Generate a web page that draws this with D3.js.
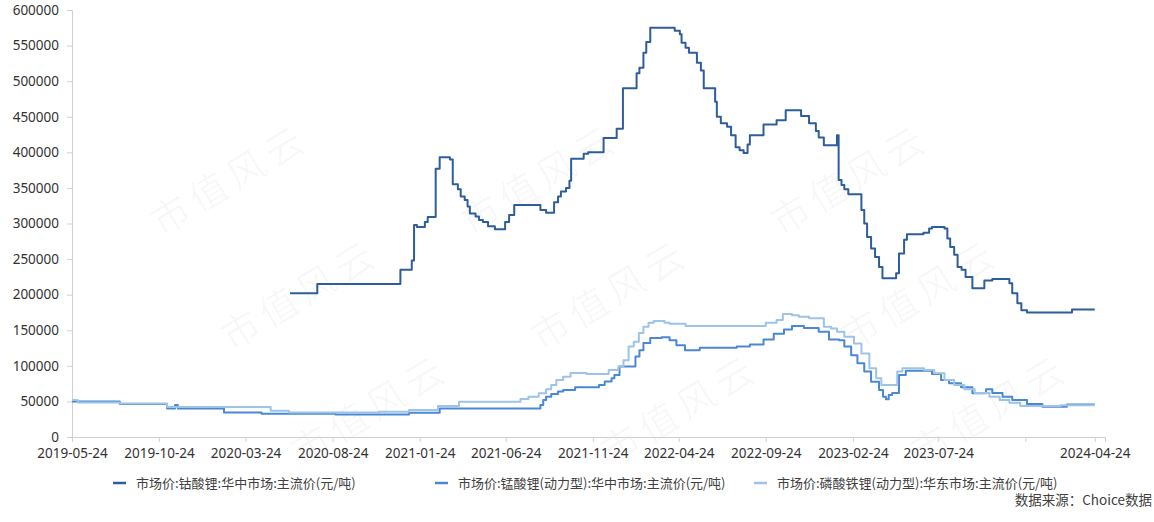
<!DOCTYPE html>
<html>
<head>
<meta charset="utf-8">
<script src="https://cdn.jsdelivr.net/npm/d3@7.9.0/dist/d3.min.js"></script>
<style>
  html, body { margin: 0; padding: 0; background: #fff; }
  svg { display: block; font-family: "Microsoft YaHei", "Noto Sans CJK SC", "Noto Sans", sans-serif; }
</style>
</head>
<body>
<svg id="chart" width="1154" height="522"></svg>
<script>
// tick labels
const yTicks = [0, 50000, 100000, 150000, 200000, 250000, 300000, 350000, 400000, 450000, 500000, 550000, 600000];
const xTickDates = ['2019-05-24', '2019-10-24', '2020-03-24', '2020-08-24', '2021-01-24', '2021-06-24',
  '2021-11-24', '2022-04-24', '2022-09-24', '2023-02-24', '2023-07-24', '2023-12-24', '2024-04-24'];
const xTickLabels = ['2019-05-24', '2019-10-24', '2020-03-24', '2020-08-24', '2021-01-24', '2021-06-24',
  '2021-11-24', '2022-04-24', '2022-09-24', '2023-02-24', '2023-07-24', '', '2024-04-24'];

const seriesNames = [
  '市场价:钴酸锂:华中市场:主流价(元/吨)',
  '市场价:锰酸锂(动力型):华中市场:主流价(元/吨)',
  '市场价:磷酸铁锂(动力型):华东市场:主流价(元/吨)'
];
const seriesColors = ['#2e5d9c', '#4a87d5', '#9dc3e6'];

// 钴酸锂
const licoData = [
  ['2020-06-10', 202000], ['2020-07-28', 215000], ['2020-12-21', 235000], ['2021-01-10', 248000],
  ['2021-01-14', 298000], ['2021-01-19', 295000], ['2021-02-02', 302000], ['2021-02-07', 309000],
  ['2021-02-21', 377000], ['2021-02-28', 393000], ['2021-03-18', 390000], ['2021-03-23', 355000],
  ['2021-04-01', 348000], ['2021-04-06', 338000], ['2021-04-13', 333000], ['2021-04-18', 324000],
  ['2021-04-22', 314000], ['2021-05-02', 310000], ['2021-05-08', 305000], ['2021-05-15', 302000],
  ['2021-05-24', 296000], ['2021-06-05', 292000], ['2021-06-23', 302000], ['2021-06-30', 312000],
  ['2021-07-09', 326000], ['2021-08-24', 319000], ['2021-09-03', 315000], ['2021-09-17', 330000],
  ['2021-09-24', 338000], ['2021-09-29', 345000], ['2021-10-08', 350000], ['2021-10-14', 360000],
  ['2021-10-17', 391000], ['2021-11-08', 398000], ['2021-11-16', 400000], ['2021-12-13', 420000],
  ['2022-01-05', 433000], ['2022-01-16', 490000], ['2022-02-09', 511000], ['2022-02-14', 519000],
  ['2022-02-21', 540000], ['2022-02-26', 555000], ['2022-03-05', 575000], ['2022-04-17', 571000],
  ['2022-04-26', 566000], ['2022-04-29', 554000], ['2022-05-06', 547000], ['2022-05-12', 540000],
  ['2022-05-26', 526000], ['2022-06-02', 515000], ['2022-06-07', 490000], ['2022-06-27', 471000],
  ['2022-06-30', 450000], ['2022-07-07', 441000], ['2022-07-18', 436000], ['2022-07-25', 424000],
  ['2022-08-02', 407000], ['2022-08-09', 403000], ['2022-08-16', 399000], ['2022-08-23', 411000],
  ['2022-08-27', 424000], ['2022-09-20', 439000], ['2022-10-13', 445000], ['2022-10-29', 459000],
  ['2022-11-25', 451000], ['2022-12-09', 441000], ['2022-12-21', 430000], ['2022-12-26', 421000],
  ['2023-01-04', 410000], ['2023-01-27', 424000], ['2023-01-30', 361000], ['2023-02-04', 354000],
  ['2023-02-09', 348000], ['2023-02-16', 341000], ['2023-03-11', 319000], ['2023-03-16', 300000],
  ['2023-03-21', 281000], ['2023-03-28', 265000], ['2023-04-04', 253000], ['2023-04-11', 239000],
  ['2023-04-17', 223000], ['2023-05-11', 230000], ['2023-05-16', 258000], ['2023-05-25', 277000],
  ['2023-05-30', 285000], ['2023-06-28', 287000], ['2023-07-08', 293000], ['2023-07-13', 295000],
  ['2023-08-04', 293000], ['2023-08-09', 279000], ['2023-08-14', 267000], ['2023-08-21', 256000],
  ['2023-08-27', 239000], ['2023-09-03', 235000], ['2023-09-10', 225000], ['2023-09-22', 209000],
  ['2023-10-13', 220000], ['2023-10-27', 222000], ['2023-11-26', 216000], ['2023-12-01', 202000],
  ['2023-12-10', 188000], ['2023-12-17', 178000], ['2023-12-27', 175000], ['2024-03-15', 179000],
  ['2024-04-24', 179000]
];

// 锰酸锂(动力型)
const lmoData = [
  ['2019-05-24', 50000], ['2019-08-16', 46500], ['2019-11-07', 40000], ['2019-11-21', 45000],
  ['2019-11-26', 40000], ['2020-02-15', 34500], ['2020-04-21', 32500], ['2020-08-29', 31500],
  ['2021-01-05', 34000], ['2021-02-28', 40000], ['2021-08-24', 45000], ['2021-08-29', 52000],
  ['2021-09-03', 56500], ['2021-09-12', 60500], ['2021-09-24', 64000], ['2021-10-03', 66000],
  ['2021-10-24', 70000], ['2021-12-05', 73000], ['2021-12-15', 78000], ['2021-12-27', 82500],
  ['2022-01-01', 87000], ['2022-01-10', 99000], ['2022-02-07', 113000], ['2022-02-14', 122000],
  ['2022-02-21', 132000], ['2022-03-05', 139000], ['2022-03-25', 140000], ['2022-04-08', 136000],
  ['2022-04-20', 129000], ['2022-05-05', 122000], ['2022-05-31', 125500], ['2022-08-04', 127000],
  ['2022-08-27', 130000], ['2022-09-20', 137000], ['2022-10-08', 145000], ['2022-10-26', 151000],
  ['2022-11-09', 156000], ['2022-11-30', 153000], ['2022-12-26', 148000], ['2023-01-13', 137000],
  ['2023-01-31', 136000], ['2023-02-09', 127000], ['2023-02-21', 115000], ['2023-03-04', 103500],
  ['2023-03-16', 92000], ['2023-03-28', 77500], ['2023-04-11', 66000], ['2023-04-18', 56500],
  ['2023-04-23', 53000], ['2023-04-28', 59000], ['2023-05-04', 62000], ['2023-05-16', 87000],
  ['2023-05-28', 93000], ['2023-07-13', 88500], ['2023-07-29', 80000], ['2023-08-12', 75500],
  ['2023-09-02', 70000], ['2023-09-22', 61500], ['2023-10-16', 67000], ['2023-10-27', 62000],
  ['2023-11-14', 56500], ['2023-12-01', 52000], ['2023-12-27', 46500], ['2024-01-23', 42500],
  ['2024-03-06', 45500], ['2024-04-24', 45500]
];

// 磷酸铁锂(动力型)
const lfpData = [
  ['2019-05-24', 52000], ['2019-06-03', 48500], ['2019-08-16', 47000], ['2019-11-07', 42000],
  ['2020-05-07', 37000], ['2020-06-08', 34500], ['2020-11-13', 35500], ['2021-01-05', 38000],
  ['2021-02-25', 43500], ['2021-04-03', 49500], ['2021-07-20', 53500], ['2021-08-03', 56500],
  ['2021-08-21', 61500], ['2021-09-03', 67000], ['2021-09-12', 73000], ['2021-09-21', 80000],
  ['2021-10-03', 84500], ['2021-10-16', 90000], ['2021-11-13', 88500], ['2021-12-22', 94000],
  ['2022-01-08', 99000], ['2022-01-17', 108000], ['2022-01-26', 127000], ['2022-02-04', 134000],
  ['2022-02-13', 146000], ['2022-02-21', 155000], ['2022-03-02', 160500], ['2022-03-11', 163000],
  ['2022-03-30', 160500], ['2022-04-08', 159000], ['2022-05-06', 156000], ['2022-09-24', 160500],
  ['2022-10-13', 164500], ['2022-10-24', 173000], ['2022-11-09', 171000], ['2022-11-21', 169000],
  ['2022-12-09', 167000], ['2023-01-04', 155000], ['2023-01-17', 152500], ['2023-01-27', 148000],
  ['2023-02-09', 141000], ['2023-02-26', 131500], ['2023-03-11', 117500], ['2023-03-25', 96500],
  ['2023-04-06', 82500], ['2023-04-15', 73000], ['2023-05-13', 92000], ['2023-05-22', 96500],
  ['2023-06-29', 94000], ['2023-07-17', 89500], ['2023-08-04', 80000], ['2023-08-21', 73000],
  ['2023-09-08', 67000], ['2023-09-26', 62000], ['2023-10-22', 56500], ['2023-11-09', 52000],
  ['2023-11-26', 48000], ['2023-12-15', 43500], ['2024-02-24', 44500], ['2024-04-24', 44500]
];

const parse = d3.timeParse('%Y-%m-%d');
const svg = d3.select('#chart');

// watermark 市值风云 (only the copies that fit inside the picture)
const wm = svg.append('g').attr('fill', '#000').attr('fill-opacity', 0.03)
  .attr('font-size', 38).attr('letter-spacing', 6);
for (let r = -1; r < 6; r++) {
  for (let c = -1; c < 5; c++) {
    const cx = 160 + r * 70 + c * 310;
    const cy = 65 + r * 115;
    const t = wm.append('text')
      .attr('transform', `translate(${cx},${cy}) rotate(-31)`)
      .attr('text-anchor', 'middle')
      .attr('dy', '0.35em')
      .text('市值风云');
    const b = t.node().getBoundingClientRect();
    if (b.left < 0 || b.top < 0 || b.right > 1154 || b.bottom > 522) t.remove();
  }
}

const x = d3.scaleTime()
  .domain([parse('2019-05-24'), parse('2024-05-12')])
  .range([72, 1105]);
const y = d3.scaleLinear().domain([0, 600000]).range([437, 10]);

// y axis
const yAxis = svg.append('g')
  .attr('transform', 'translate(72,0)')
  .call(d3.axisLeft(y).tickValues(yTicks).tickFormat(d3.format('d')).tickSize(5).tickPadding(8));
yAxis.select('.domain').attr('stroke', '#d0d0d0');
yAxis.selectAll('.tick line').attr('stroke', '#d0d0d0');
yAxis.selectAll('.tick text').attr('font-size', 13.5).attr('fill', '#333')
  .attr('font-family', '"Noto Sans", "Open Sans", sans-serif');

// x axis
const xAxis = svg.append('g')
  .attr('transform', 'translate(0,437)')
  .call(d3.axisBottom(x).tickValues(xTickDates.map(parse))
    .tickFormat((d, i) => xTickLabels[i]).tickSizeOuter(0).tickSize(5).tickPadding(6));
xAxis.select('.domain').attr('stroke', '#d0d0d0');
xAxis.selectAll('.tick line').attr('stroke', '#d0d0d0');
xAxis.selectAll('.tick text').attr('font-size', 13.5).attr('fill', '#333')
  .attr('font-family', '"Noto Sans", "Open Sans", sans-serif');

// lines
const line = d3.line()
  .x(d => x(parse(d[0])))
  .y(d => y(d[1]))
  .curve(d3.curveStepAfter);

[licoData, lmoData, lfpData].forEach((data, i) => {
  svg.append('path')
    .datum(data)
    .attr('fill', 'none')
    .attr('stroke', seriesColors[i])
    .attr('stroke-width', 2)
    .attr('stroke-linejoin', 'round')
    .attr('d', line);
});

// legend
const legendX = [113, 435, 754];
const legend = svg.append('g').attr('font-size', 13).attr('fill', '#404040');
seriesNames.forEach((name, i) => {
  legend.append('line')
    .attr('x1', legendX[i]).attr('x2', legendX[i] + 13)
    .attr('y1', 483).attr('y2', 483)
    .attr('stroke', seriesColors[i]).attr('stroke-width', 2.5);
  legend.append('text')
    .attr('x', legendX[i] + 23).attr('y', 488)
    .text(name);
});

svg.append('text')
  .attr('x', 1152).attr('y', 505)
  .attr('text-anchor', 'end')
  .attr('font-size', 13.5)
  .attr('fill', '#404040')
  .text('数据来源：Choice数据');
</script>
</body>
</html>
